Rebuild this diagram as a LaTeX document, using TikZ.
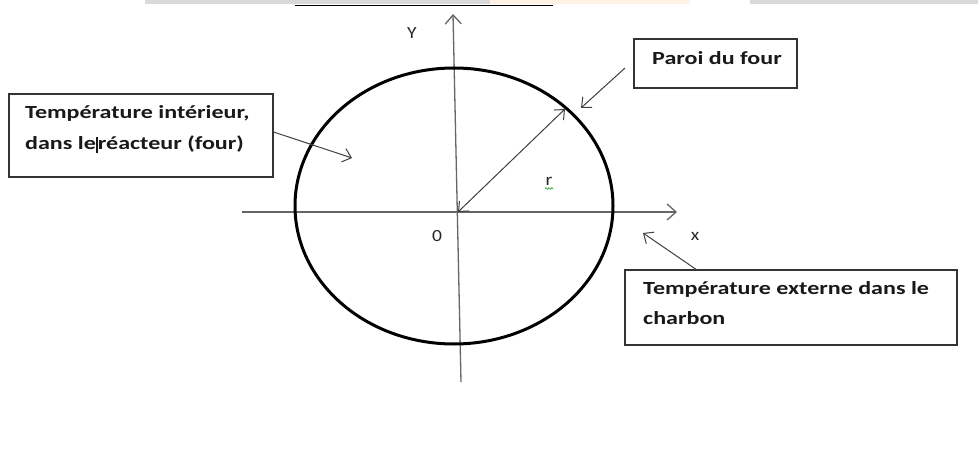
\documentclass[tikz,border=0pt]{standalone}
\usepackage{fontspec}
\setmainfont{Carlito}
\newfontfamily\boxfont[FakeStretch=1.3]{Carlito}
\newfontfamily\lblfont[FakeStretch=1.15]{Carlito}
\usetikzlibrary{arrows.meta,decorations.pathmorphing}
\tikzset{
  box/.style={draw=black!80, line width=1.2pt, rectangle, inner sep=0pt},
  boxtext/.style={inner sep=0pt, anchor=base west, text=black!90, font=\boxfont\fontsize{18.5}{22}\selectfont\bfseries},
  axislabel/.style={inner sep=0pt, text=black!85, font=\lblfont\fontsize{17}{20}\selectfont},
  axis/.style={draw=black!60, line width=1.3pt},
  barb/.tip={Straight Barb[length=8pt,width=14pt,line width=1pt]},
  arr/.style={draw=black!75, line width=1pt, -barb},
}
\begin{document}
\begin{tikzpicture}[x=1pt,y=-1pt]
\useasboundingbox (0,0) rectangle (978,457);
\fill[white] (0,0) rectangle (978,457);
% top strip (screen capture remnant)
\fill[black!15] (145,0) rectangle (490,4.5);
\fill[orange!10] (490,0) rectangle (690,4.5);
\fill[black!15] (750,0) rectangle (978,4.5);
\draw[line width=1.8pt] (295,5.5) -- (553,5.5);

% coordinates
\coordinate (o) at (458,212);
\coordinate (ytop) at (453,14);
\coordinate (ybot) at (461,382);
\coordinate (xl) at (242,212);
\coordinate (xr) at (677,212);
\coordinate (rim) at (565,109);

% axes
\draw[axis, -{Straight Barb[length=9pt,width=16pt,line width=1.3pt]}] (ybot) -- (ytop);
\draw[axis, -{Straight Barb[length=9pt,width=16pt,line width=1.3pt]}] (xl) -- (xr);

% furnace wall
\draw[line width=3pt] (454,206) ellipse [x radius=159, y radius=138];

% radius
\draw[draw=black!75, line width=1pt, barb-barb] (o) -- (rim);
\node[axislabel] (r) at (549,181) {r};
\draw[green!60!black, line width=0.6pt, decorate, decoration={snake, amplitude=0.8pt, segment length=3pt}] (545,188.5) -- (553,188.5);

% axis labels
\node[axislabel] (ylab) at (412,33) {Y};
\node[axislabel] (zero) at (437,236) {0};
\node[axislabel] (xlab) at (695,236) {x};

% box 1
\node[box, minimum width=264pt, minimum height=83pt] (b1) at (141,135.5) {};
\node[boxtext] (t1a) at (25,119) {Température intérieur,};
\node[boxtext] (t1b) at (25,150) {dans le\rule[-3pt]{2pt}{16pt}réacteur (four)};
\coordinate (a1s) at (b1.east |- 0,132);
\coordinate (a1e) at (352,158);
\draw[arr] (a1s) -- (a1e);

% box 2
\node[box, minimum width=163pt, minimum height=49pt] (b2) at (715.5,63.5) {};
\node[boxtext] (t2) at (652,65) {Paroi du four};
\coordinate (a2s) at (625,68);
\coordinate (a2e) at (581,108);
\draw[arr] (a2s) -- (a2e);

% box 3
\node[box, minimum width=332pt, minimum height=75pt] (b3) at (791,307.5) {};
\node[boxtext] (t3a) at (643,295) {Température externe dans le};
\node[boxtext] (t3b) at (643,325) {charbon};
\coordinate (a3s) at (697,270);
\coordinate (a3e) at (643,233);
\draw[arr] (a3s) -- (a3e);
\end{tikzpicture}
\end{document}
